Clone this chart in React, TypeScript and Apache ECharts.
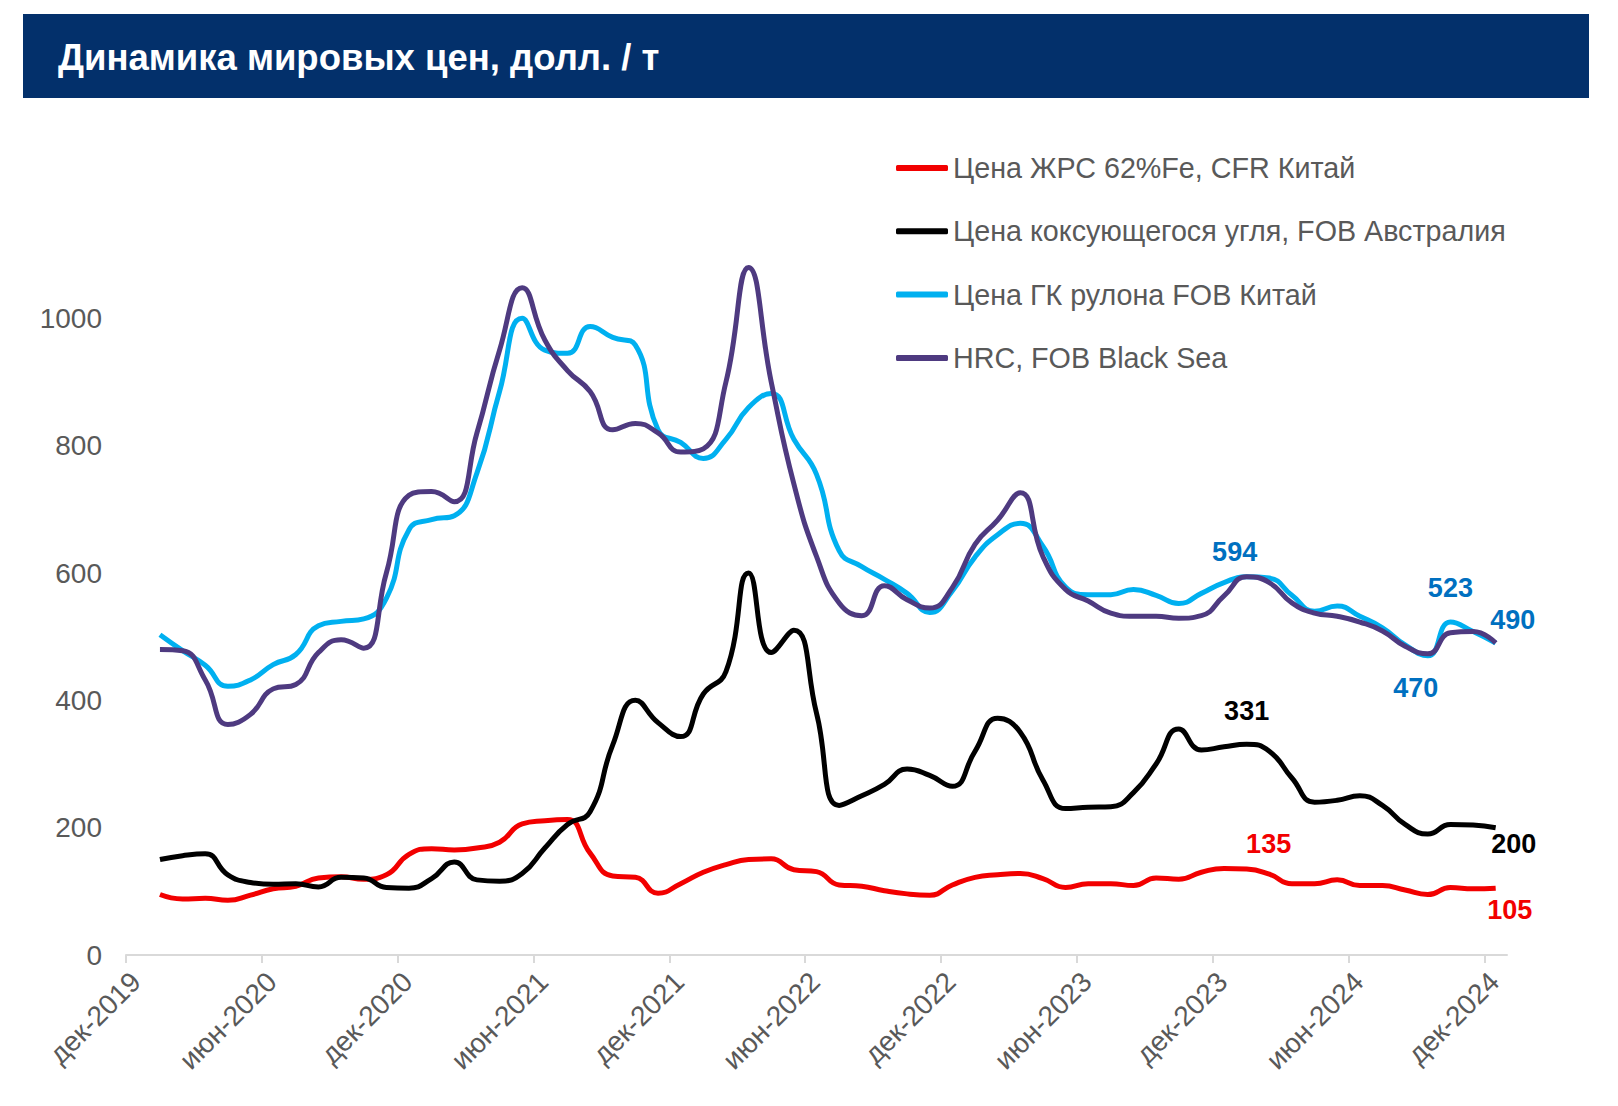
import React, { useEffect, useRef } from "react";
import * as echarts from "echarts";

// Monthly observations, Jan 2020 .. Dec 2024
const firstYear = 2020;
const lastYear = 2024;
const months: string[] = [];
for (let y = firstYear; y <= lastYear; y++) {
  for (let m = 1; m <= 12; m++) months.push(`${y}-${String(m).padStart(2, "0")}`);
}

// Axis tick labels every 6 months starting at Dec 2019
const xTickLabels = [
  "дек-2019", "июн-2020", "дек-2020", "июн-2021", "дек-2021", "июн-2022",
  "дек-2022", "июн-2023", "дек-2023", "июн-2024", "дек-2024",
];

const seriesNames = [
  "Цена ЖРС 62%Fe, CFR Китай",
  "Цена коксующегося угля, FOB Австралия",
  "Цена ГК рулона FOB Китай",
  "HRC, FOB Black Sea",
];

const ironOre = [
  95, 88, 89, 86, 94, 104, 108, 121, 123, 119, 126, 158,
  167, 165, 168, 177, 206, 211, 213, 160, 124, 122, 97, 112,
  130, 142, 150, 151, 134, 131, 110, 108, 101, 96, 94, 110,
  122, 126, 128, 120, 106, 112, 112, 109, 121, 119, 130, 136,
  135, 127, 112, 112, 118, 109, 109, 102, 95, 106, 104, 105,
];

const cokingCoal = [
  150, 156, 159, 126, 114, 111, 112, 107, 122, 121, 106, 105,
  120, 146, 118, 116, 128, 168, 205, 225, 330, 400, 365, 343,
  410, 445, 600, 475, 510, 380, 235, 250, 268, 292, 282, 265,
  320, 372, 350, 275, 230, 232, 233, 255, 300, 355, 322, 327,
  331, 320, 278, 240, 243, 250, 235, 205, 190, 205, 204, 200,
];

const hrcChina = [
  503, 478, 455, 422, 432, 456, 472, 517, 524, 528, 560, 668,
  684, 690, 757, 885, 1000, 950, 945, 987, 970, 958, 825, 805,
  780, 810, 860, 882, 810, 755, 635, 610, 590, 568, 538, 572,
  625, 660, 678, 642, 578, 566, 566, 574, 565, 552, 568, 585,
  594, 592, 565, 540, 548, 532, 514, 487, 470, 523, 508, 490,
];

const hrcBlackSea = [
  480, 478, 432, 362, 378, 418, 425, 475, 495, 482, 600, 722,
  728, 712, 820, 950, 1048, 966, 918, 885, 825, 835, 820, 790,
  795, 900, 1080, 900, 740, 626, 553, 533, 580, 558, 545, 577,
  645, 683, 726, 626, 574, 556, 537, 532, 532, 529, 533, 564,
  594, 585, 553, 537, 532, 523, 509, 485, 473, 506, 508, 490,
];

const colors = ["#f20000", "#000000", "#00b0f0", "#4e3a80"];
const labelBlue = "#0070c0";

type Lab = { month: string; offset: number[]; color: string };
const labelsPerSeries: Lab[][] = [
  [
    { month: "2024-01", offset: [22, -25], color: "#f20000" },
    { month: "2024-12", offset: [14, 22], color: "#f20000" },
  ],
  [
    { month: "2024-01", offset: [0, -33], color: "#000000" },
    { month: "2024-12", offset: [18, 16], color: "#000000" },
  ],
  [
    { month: "2024-01", offset: [-12, -25], color: labelBlue },
    { month: "2024-09", offset: [-12, 32], color: labelBlue },
    { month: "2024-10", offset: [0, -34], color: labelBlue },
    { month: "2024-12", offset: [17, -23], color: labelBlue },
  ],
  [],
];

// axis origin: start of Dec 2019; each observation sits mid-month
function monthPos(ym: string): number {
  const [y, m] = ym.split("-").map(Number);
  return (y - 2019) * 12 + (m - 12) + 0.5;
}

const FONT = "'Liberation Sans', Arial, sans-serif";

function buildData(values: number[], labs: Lab[]) {
  return values.map((v, i) => {
    const point = [monthPos(months[i]), v];
    const lab = labs.find((l) => l.month === months[i]);
    if (!lab) return point;
    return {
      value: point,
      symbol: "circle",
      symbolSize: 0,
      label: {
        show: true,
        position: "inside",
        offset: lab.offset,
        color: lab.color,
        fontSize: 27,
        fontWeight: "bold",
        fontFamily: FONT,
        formatter: (p: any) => String(p.value[1]),
      },
    };
  });
}

export default function App() {
  const ref = useRef<HTMLDivElement>(null);
  useEffect(() => {
    if (!ref.current) return;
    const chart = echarts.init(ref.current, undefined, { renderer: "svg" });
    const allValues = [ironOre, cokingCoal, hrcChina, hrcBlackSea];
    const tickPositions = xTickLabels.map((_, i) => i * 6);
    chart.setOption({
      animation: false,
      backgroundColor: "#ffffff",
      textStyle: { fontFamily: FONT },
      graphic: [
        {
          type: "rect",
          left: 23,
          top: 14,
          shape: { width: 1566, height: 84 },
          style: { fill: "#03306b" },
          z: 0,
        },
        {
          type: "text",
          left: 58,
          top: 39,
          style: {
            text: "Динамика мировых цен, долл. / т",
            fill: "#ffffff",
            font: `bold 36.5px ${FONT}`,
          },
          z: 1,
        },
      ],
      legend: {
        orient: "vertical",
        left: 891,
        top: 148,
        padding: 5,
        itemGap: 33.3,
        itemWidth: 52,
        itemHeight: 6,
        icon: "roundRect",
        textStyle: {
          fontSize: 28.7,
          lineHeight: 30,
          color: "#595959",
          fontFamily: FONT,
        },
        data: seriesNames,
      },
      grid: { left: 126, right: 111, top: 191, bottom: 151, containLabel: false },
      xAxis: {
        type: "value",
        min: 0,
        max: 61,
        interval: 6,
        splitLine: { show: false },
        axisLine: { show: true, lineStyle: { color: "#d9d9d9", width: 2 } },
        axisTick: {
          show: true,
          length: 8,
          customValues: tickPositions,
          lineStyle: { color: "#d9d9d9", width: 2 },
        },
        axisLabel: {
          customValues: tickPositions,
          rotate: 45,
          fontSize: 28,
          color: "#595959",
          fontFamily: FONT,
          margin: 12,
          verticalAlign: "top",
          formatter: (v: number) => xTickLabels[Math.round(v / 6)] ?? "",
        },
      },
      yAxis: {
        type: "value",
        min: 0,
        max: 1200,
        interval: 200,
        splitLine: { show: false },
        axisLine: { show: false },
        axisTick: { show: false },
        axisLabel: {
          showMaxLabel: false,
          fontSize: 28,
          color: "#595959",
          fontFamily: FONT,
          margin: 24,
          formatter: (v: number) => String(v),
        },
      },
      series: seriesNames.map((name, si) => ({
        name,
        type: "line",
        smooth: 0.5,
        symbol: "none",
        showSymbol: true,
        lineStyle: { color: colors[si], width: 5 },
        itemStyle: { color: colors[si] },
        data: buildData(allValues[si], labelsPerSeries[si]),
      })),
    });
    return () => chart.dispose();
  }, []);
  return (
    <div
      ref={ref}
      style={{ position: "absolute", left: 0, top: 0, width: 1618, height: 1106, background: "#fff" }}
    />
  );
}
